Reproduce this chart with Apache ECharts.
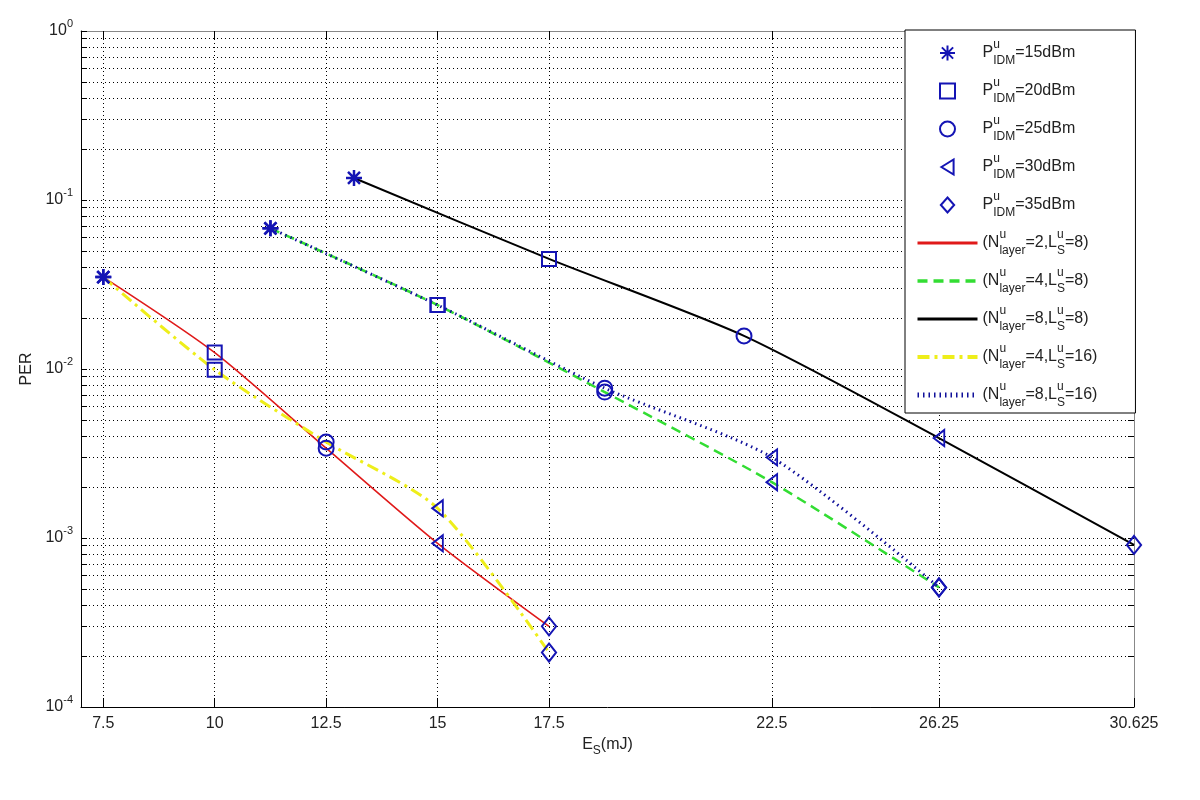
<!DOCTYPE html>
<html>
<head>
<meta charset="utf-8">
<script src="https://cdn.jsdelivr.net/npm/echarts@6/dist/echarts.min.js"></script>
<style>html,body{margin:0;padding:0;background:#fff;}#c{width:1200px;height:800px;}</style>
</head>
<body>
<div id="c"></div>
<script>
// ---- data ----
const xTicks = [7.5, 10, 12.5, 15, 17.5, 22.5, 26.25, 30.625];
const yMajor = [0.0001, 0.001, 0.01, 0.1, 1];
const yMinor = [2e-4,3e-4,4e-4,5e-4,6e-4,7e-4,8e-4,9e-4,
                2e-3,3e-3,4e-3,5e-3,6e-3,7e-3,8e-3,9e-3,
                2e-2,3e-2,4e-2,5e-2,6e-2,7e-2,8e-2,9e-2,
                0.2,0.3,0.4,0.5,0.6,0.7,0.8,0.9];

const x_N2L8  = [7.5, 10, 12.5, 15, 17.5];
const y_N2L8  = [0.035, 0.0125, 0.0034, 0.00093, 0.0003];
const x_N4L8  = [11.25, 15, 18.75, 22.5, 26.25];
const y_N4L8  = [0.068, 0.0239, 0.0073, 0.00214, 0.00051];
const x_N8L8  = [13.125, 17.5, 21.875, 26.25, 30.625];
const y_N8L8  = [0.135, 0.0448, 0.0157, 0.0039, 0.00091];
const x_N4L16 = [7.5, 10, 12.5, 15, 17.5];
const y_N4L16 = [0.035, 0.0099, 0.0037, 0.0015, 0.00021];
const x_N8L16 = [11.25, 15, 18.75, 22.5, 26.25];
const y_N8L16 = [0.068, 0.0239, 0.0077, 0.003, 0.00051];

const powerNames = ['P15', 'P20', 'P25', 'P30', 'P35'];
const powerLabels = ['15dBm', '20dBm', '25dBm', '30dBm', '35dBm'];

// ---- build ----
const lines = [
  {name: 'L1', x: x_N2L8,  y: y_N2L8,  label: ['2', '8'],  color: '#e01a1a', width: 1.6, lw: 3, type: 'solid'},
  {name: 'L2', x: x_N4L8,  y: y_N4L8,  label: ['4', '8'],  color: '#33dd33', width: 2.5, lw: 3.5, type: [10, 6]},
  {name: 'L3', x: x_N8L8,  y: y_N8L8,  label: ['8', '8'],  color: '#000000', width: 2,   lw: 3, type: 'solid'},
  {name: 'L4', x: x_N4L16, y: y_N4L16, label: ['4', '16'], color: '#eeee1a', width: 3,   lw: 4, type: [12, 5, 3, 5]},
  {name: 'L5', x: x_N8L16, y: y_N8L16, label: ['8', '16'], color: '#10109a', width: 3,   lw: 5, type: [1.5, 4]}
];
const markerColor = '#1414b4';
const symbols = [
  'path://M0,-10L0,10M-10,0L10,0M-7.5,-7.5L7.5,7.5M-7.5,7.5L7.5,-7.5',
  'path://M0,0L10,0L10,10L0,10Z',
  'path://M10,5A5,5,0,1,1,0,5A5,5,0,1,1,10,5Z',
  'path://M0,8L13,0L13,16Z',
  'path://M8,0L16,9L8,18L0,9Z'
];
const symSizes = [16, 14, 15, [13, 16], [16, 18]];
const symBorder = [2.5, 2, 2, 2, 2];

const zip = (xs, ys) => xs.map((v, i) => [v, ys[i]]);

const series = [];
lines.forEach(l => {
  series.push({
    name: l.name, type: 'line', data: zip(l.x, l.y), symbol: 'none',
    smooth: 0.25, z: 3,
    lineStyle: {color: l.color, width: l.width, type: l.type},
    itemStyle: {color: l.color}
  });
});
powerNames.forEach((pn, i) => {
  const pts = lines.map(l => [l.x[i], l.y[i]]);
  series.push({
    name: pn, type: 'scatter', data: pts, z: 5,
    symbol: symbols[i], symbolSize: symSizes[i], symbolKeepAspect: true,
    itemStyle: {color: 'rgba(0,0,0,0)', borderColor: markerColor, borderWidth: symBorder[i], opacity: 1}
  });
});

const legendText = {};
powerNames.forEach((pn, i) => {
  legendText[pn] = '{b|P}{sup|u}{sub|IDM}{b|=' + powerLabels[i] + '}';
});
lines.forEach(l => {
  legendText[l.name] = '{b|(N}{sup|u}{sub|layer}{b|=' + l.label[0] + ',L}{sup|u}{sub|S}{b|=' + l.label[1] + ')}';
});

const legendData = powerNames.map(n => ({name: n}))
  .concat(lines.map(l => ({name: l.name,
    itemStyle: {color: 'rgba(0,0,0,0)', borderWidth: 0},
    lineStyle: {width: l.lw, color: l.color, type: l.type}})));

const FONT = 'Liberation Sans, Arial, sans-serif';
const txt = '#222';

const option = {
  animation: false,
  backgroundColor: '#fff',
  textStyle: {fontFamily: FONT},
  grid: {left: 81, top: 31, right: 66, bottom: 93, containLabel: false},
  xAxis: [{
    type: 'value', min: 7, max: 30.625, position: 'bottom',
    name: '{b|E}{sub|S}{b|(mJ)}', nameLocation: 'middle', nameGap: 26,
    nameTextStyle: {color: txt, rich: {
      b: {fontSize: 16, fontFamily: FONT, color: txt, lineHeight: 24},
      sub: {fontSize: 12, fontFamily: FONT, color: txt, lineHeight: 12, verticalAlign: 'bottom'}}},
    axisLine: {show: true, lineStyle: {color: '#000', width: 1}},
    axisTick: {show: true, inside: true, length: 9, customValues: xTicks, lineStyle: {color: '#000'}},
    axisLabel: {customValues: xTicks, color: txt, fontSize: 16, fontFamily: FONT, margin: 9},
    splitLine: {show: true, lineStyle: {color: '#000', type: [1, 3], width: 1}}
  }, {
    type: 'value', min: 7, max: 30.625, position: 'top',
    axisLine: {show: true, lineStyle: {color: '#888', width: 1}},
    axisTick: {show: true, inside: true, length: 9, customValues: xTicks, lineStyle: {color: '#000'}},
    axisLabel: {show: false},
    splitLine: {show: false}
  }],
  yAxis: [{
    type: 'log', min: 0.0001, max: 1, logBase: 10, position: 'left',
    name: 'PER', nameLocation: 'middle', nameGap: 40, nameRotate: 90,
    nameTextStyle: {color: txt, fontSize: 16, fontFamily: FONT},
    axisLine: {show: true, lineStyle: {color: '#000', width: 1}},
    axisTick: {show: true, inside: true, length: 6, customValues: yMajor.concat(yMinor), lineStyle: {color: '#000'}},
    axisLabel: {customValues: yMajor, color: txt, margin: 8,
      formatter: v => '{b|10}{s|' + Math.round(Math.log10(v)) + '}',
      rich: {
        b: {fontSize: 16, fontFamily: FONT, color: txt, lineHeight: 26},
        s: {fontSize: 11, fontFamily: FONT, color: txt, lineHeight: 12, verticalAlign: 'top'}
      }},
    splitLine: {show: true, lineStyle: {color: '#000', type: [1, 3], width: 1}}
  }, {
    type: 'log', min: 0.0001, max: 1, logBase: 10, position: 'right',
    axisLine: {show: true, lineStyle: {color: '#888', width: 1}},
    axisTick: {show: true, inside: true, length: 6, customValues: yMajor.concat(yMinor), lineStyle: {color: '#000'}},
    axisLabel: {show: false},
    splitLine: {show: false}
  }],
  legend: {
    orient: 'vertical', left: 905, top: 30,
    data: legendData,
    backgroundColor: '#fff', borderColor: '#000', borderWidth: 1, borderRadius: 0,
    padding: [9, 38, 4, 10], itemGap: 10, itemWidth: 60, itemHeight: 15,
    symbolKeepAspect: true,
    selectedMode: false,
    formatter: name => legendText[name],
    textStyle: {color: txt, fontFamily: FONT, fontSize: 16, rich: {
      b: {fontSize: 16, fontFamily: FONT, color: txt, lineHeight: 28},
      sup: {fontSize: 12, fontFamily: FONT, color: txt, lineHeight: 14, verticalAlign: 'top', width: 0},
      sub: {fontSize: 12, fontFamily: FONT, color: txt, lineHeight: 14, verticalAlign: 'bottom'}
    }}
  },
  series: series
};

const chart = echarts.init(document.getElementById('c'), null, {renderer: 'canvas'});
chart.setOption(option);
</script>
</body>
</html>
